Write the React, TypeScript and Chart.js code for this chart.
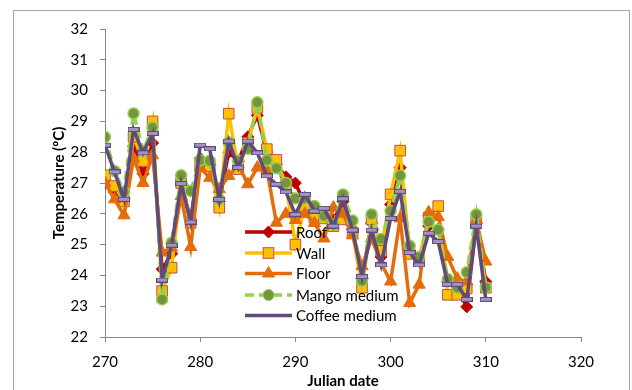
import React, { useEffect, useRef } from "react";
import { Chart, registerables } from "chart.js";

Chart.register(...registerables);

// Julian dates (x values)
const days = [
  270, 271, 272, 273, 274, 275, 276, 277, 278, 279,
  280, 281, 282, 283, 284, 285, 286, 287, 288, 289,
  290, 291, 292, 293, 294, 295, 296, 297, 298, 299,
  300, 301, 302, 303, 304, 305, 306, 307, 308, 309, 310,
];

const roof = [
  27.0, 26.7, 26.5, 28.2, 27.3, 28.3, 24.2, 24.7, 27.0, 25.8,
  27.8, 27.6, 26.4, 28.0, 27.7, 28.5, 29.2, 28.0, 27.6, 27.2,
  27.0, 26.3, 26.1, 26.0, 25.8, 26.4, 25.5, 23.9, 25.7, 24.6,
  26.3, 27.5, 24.8, 24.5, 25.6, 25.5, 23.8, 23.6, 22.98, 25.7, 23.8,
];

const wall = [
  27.25, 26.9, 26.4, 28.5, 27.71, 29.0, 23.49, 24.25, 27.0, 25.71,
  27.55, 27.55, 26.2, 29.25, 27.45, 28.3, 29.45, 28.1, 27.75, 26.95,
  25.0, 26.25, 25.87, 25.85, 25.6, 25.82, 25.39, 23.6, 25.82, 24.8,
  26.63, 28.05, 24.7, 24.55, 25.88, 26.25, 23.37, 23.37, 23.58, 25.85, 23.6,
];

const floor = [
  27.0, 26.47, 25.95, 27.8, 27.0, 27.9, 24.74, 24.9, 26.58, 24.92,
  27.5, 27.17, 26.8, 27.23, 27.6, 26.96, 27.5, 27.44, 25.71, 26.0,
  25.8, 26.0, 25.7, 25.2, 26.2, 26.0, 25.3, 24.3, 25.2, 24.4,
  23.8, 25.85, 23.1, 23.7, 26.05, 25.9, 24.6, 23.9, 23.8, 25.8, 24.45,
];

const mango = [
  28.49, 27.39, 26.71, 29.26, 28.04, 28.8, 23.22, 25.06, 27.25, 26.74,
  27.74, 27.72, 26.47, 28.32, 27.72, 28.11, 29.62, 27.74, 27.48, 27.0,
  26.5, 26.5, 26.25, 25.93, 25.65, 26.63, 25.78, 23.82, 25.98, 25.18,
  26.09, 27.24, 24.96, 24.6, 25.74, 25.48, 23.88, 23.6, 24.1, 25.98, 23.61,
];

const coffee = [
  28.23, 27.36, 26.47, 28.74, 27.98, 28.61, 23.85, 24.98, 26.98, 25.73,
  28.23, 28.11, 26.47, 28.36, 27.5, 28.36, 27.98, 27.23, 26.96, 26.71,
  25.98, 26.63, 26.09, 26.18, 25.6, 26.49, 25.47, 23.96, 25.47, 24.34,
  25.85, 26.73, 24.74, 24.34, 25.37, 25.1, 23.71, 23.71, 23.22, 25.6, 23.22,
];

const xTicks = [270, 280, 290, 300, 310, 320];
const yTicks = [22, 23, 24, 25, 26, 27, 28, 29, 30, 31, 32];

const seriesNames = ["Roof", "Wall", "Floor", "Mango medium", "Coffee medium"];
const xTitle = "Julian date";
const yTitle = "Temperature (ºC)";

const FONT = "Lato, 'Open Sans', 'DejaVu Sans', sans-serif";

function makeDash(): HTMLCanvasElement {
  const c = document.createElement("canvas");
  c.width = 12;
  c.height = 5;
  const g = c.getContext("2d")!;
  g.fillStyle = "#5F4A7E";
  g.fillRect(0, 0, 12, 5);
  g.fillStyle = "#A393C2";
  g.fillRect(1, 1, 10, 3);
  return c;
}

const toPts = (vals: number[]) => days.map((d, i) => ({ x: d, y: vals[i] }));

const decorPlugin = {
  id: "decor",
  afterDraw(chart: any) {
    const ctx: CanvasRenderingContext2D = chart.ctx;
    const area = chart.chartArea;
    ctx.save();
    // outer border
    ctx.strokeStyle = "#A6A6A6";
    ctx.lineWidth = 1;
    ctx.strokeRect(13.5, 10.5, 616, 400);

    // axis titles
    ctx.fillStyle = "#000";
    ctx.font = `bold 15px ${FONT}`;
    ctx.textAlign = "center";
    ctx.textBaseline = "middle";
    ctx.fillText(xTitle, (area.left + area.right) / 2, 381);
    ctx.save();
    ctx.translate(59, (area.top + area.bottom) / 2);
    ctx.rotate(-Math.PI / 2);
    ctx.fillText(yTitle, 0, 0);
    ctx.restore();

    // legend
    const x0 = 245;
    const x1 = 292;
    const xm = (x0 + x1) / 2;
    const ys = [232, 253, 273.5, 295, 315.5];
    chart.data.datasets.forEach((ds: any, i: number) => {
      const y = ys[i];
      ctx.save();
      ctx.strokeStyle = ds.borderColor;
      ctx.lineWidth = ds.borderWidth;
      ctx.setLineDash(ds.borderDash || []);
      ctx.beginPath();
      ctx.moveTo(x0, y);
      ctx.lineTo(x1, y);
      ctx.stroke();
      ctx.setLineDash([]);
      ctx.fillStyle = ds.pointBackgroundColor;
      ctx.strokeStyle = ds.pointBorderColor;
      ctx.lineWidth = 1;
      const st = ds.pointStyle;
      const r = ds.pointRadius;
      if (st === "rectRot") {
        ctx.beginPath();
        ctx.moveTo(xm, y - r);
        ctx.lineTo(xm + r, y);
        ctx.lineTo(xm, y + r);
        ctx.lineTo(xm - r, y);
        ctx.closePath();
        ctx.fill();
        ctx.stroke();
      } else if (st === "rect") {
        const s = Math.SQRT1_2 * r;
        ctx.fillRect(xm - s, y - s, 2 * s, 2 * s);
        ctx.strokeRect(xm - s, y - s, 2 * s, 2 * s);
      } else if (st === "triangle") {
        ctx.beginPath();
        ctx.moveTo(xm, y - r);
        ctx.lineTo(xm + r * 0.866, y + r * 0.5);
        ctx.lineTo(xm - r * 0.866, y + r * 0.5);
        ctx.closePath();
        ctx.fill();
        ctx.stroke();
      } else if (st === "circle") {
        ctx.beginPath();
        ctx.arc(xm, y, r, 0, Math.PI * 2);
        ctx.fill();
        ctx.stroke();
      }
      ctx.restore();
      ctx.fillStyle = "#000";
      ctx.font = `15px ${FONT}`;
      ctx.textAlign = "left";
      ctx.textBaseline = "middle";
      ctx.fillText(seriesNames[i], 296, y + 1);
    });
    ctx.restore();
  },
};

export default function App() {
  const ref = useRef<HTMLCanvasElement | null>(null);

  useEffect(() => {
    document.body.style.margin = "0";
    const canvas = ref.current!;
    const dash = makeDash();
    const chart = new Chart(canvas, {
      type: "line",
      data: {
        datasets: [
          {
            label: seriesNames[0],
            data: toPts(roof),
            borderColor: "#C00000",
            backgroundColor: "#C00000",
            borderWidth: 3.5,
            pointStyle: "rectRot",
            pointRadius: 6,
            pointBackgroundColor: "#C00000",
            pointBorderColor: "#C00000",
            pointBorderWidth: 1,
            order: 5,
          },
          {
            label: seriesNames[1],
            data: toPts(wall),
            borderColor: "#FFC000",
            backgroundColor: "#FFC000",
            borderWidth: 3.5,
            pointStyle: "rect",
            pointRadius: 7.5,
            pointBackgroundColor: "#FFC000",
            pointBorderColor: "#C0504D",
            pointBorderWidth: 1,
            order: 4,
          },
          {
            label: seriesNames[2],
            data: toPts(floor),
            borderColor: "#E46C0A",
            backgroundColor: "#E46C0A",
            borderWidth: 3.5,
            pointStyle: "triangle",
            pointRadius: 7,
            pointBackgroundColor: "#E46C0A",
            pointBorderColor: "#E46C0A",
            pointBorderWidth: 1,
            order: 3,
          },
          {
            label: seriesNames[3],
            data: toPts(mango),
            borderColor: "#92D050",
            backgroundColor: "#77933C",
            borderWidth: 3.5,
            borderDash: [9, 5],
            pointStyle: "circle",
            pointRadius: 5.5,
            pointBackgroundColor: "#77933C",
            pointBorderColor: "#92D050",
            pointBorderWidth: 1.5,
            order: 2,
          },
          {
            label: seriesNames[4],
            data: toPts(coffee),
            borderColor: "#604A7B",
            backgroundColor: "#604A7B",
            borderWidth: 3.5,
            pointStyle: dash as any,
            pointRadius: 6,
            pointBackgroundColor: "#A393C2",
            pointBorderColor: "#5F4A7E",
            order: 1,
          },
        ],
      },
      options: {
        animation: false,
        responsive: false,
        devicePixelRatio: 1,
        layout: { padding: { left: 0, top: 29, right: 51, bottom: 0 } },
        plugins: {
          legend: { display: false },
          tooltip: { enabled: false },
          title: { display: false },
        },
        elements: { line: { tension: 0 } },
        scales: {
          x: {
            type: "linear",
            min: 270,
            max: 320,
            afterBuildTicks: (s: any) => {
              s.ticks = xTicks.map((v) => ({ value: v }));
            },
            afterFit: (s: any) => {
              s.height = 53;
            },
            ticks: {
              font: { family: FONT, size: 15 },
              color: "#000",
              padding: 11,
              maxRotation: 0,
            },
            grid: {
              display: true,
              drawOnChartArea: false,
              drawTicks: true,
              tickLength: 5,
              color: "#868686",
            },
            border: { display: true, color: "#868686", width: 1 },
          },
          y: {
            type: "linear",
            min: 22,
            max: 32,
            afterBuildTicks: (s: any) => {
              s.ticks = yTicks.map((v) => ({ value: v }));
            },
            afterFit: (s: any) => {
              s.width = 105;
            },
            ticks: {
              font: { family: FONT, size: 15 },
              color: "#000",
              padding: 12,
            },
            grid: {
              display: true,
              drawOnChartArea: false,
              drawTicks: true,
              tickLength: 5,
              color: "#868686",
            },
            border: { display: true, color: "#868686", width: 1 },
          },
        },
      },
      plugins: [decorPlugin],
    } as any);
    return () => chart.destroy();
  }, []);

  return (
    <div style={{ position: "fixed", left: 0, top: 0, width: 632, height: 390, background: "#fff" }}>
      <canvas ref={ref} width={632} height={390} style={{ display: "block", width: 632, height: 390 }} />
    </div>
  );
}
